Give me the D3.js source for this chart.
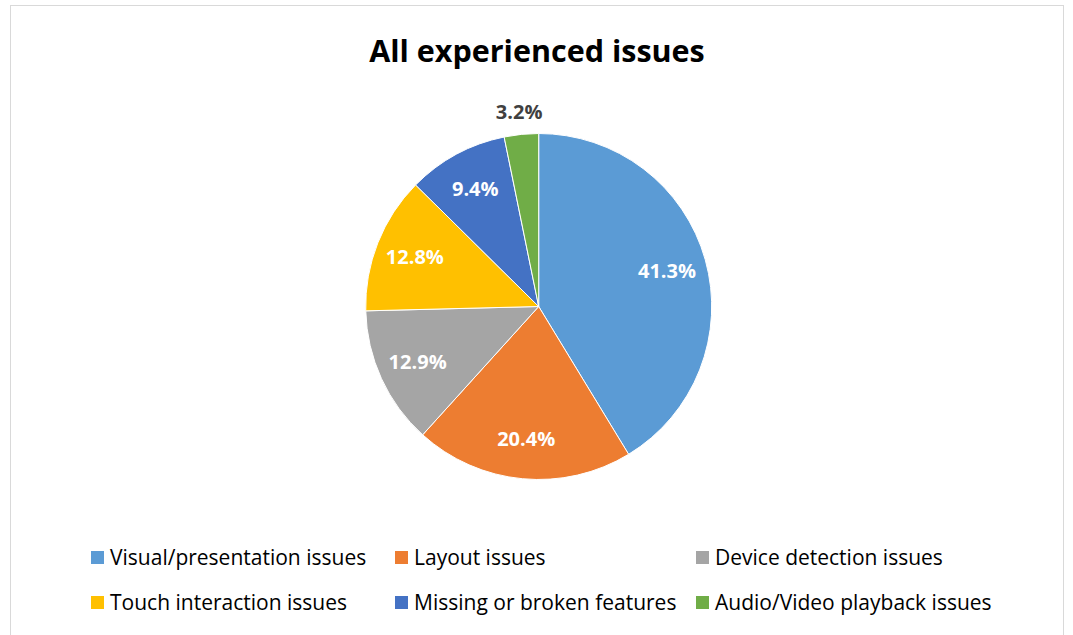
<!DOCTYPE html>
<html>
<head>
<meta charset="utf-8">
<script src="https://cdn.jsdelivr.net/npm/d3@7"></script>
<style>
  body { margin: 0; background: #fff; }
  svg { display: block; font-family: "Open Sans", "Noto Sans", sans-serif; }
</style>
</head>
<body>
<svg id="chart" width="1073" height="635"></svg>
<script>
// ===== DATA =====
const categories = [
    'Visual/presentation issues',
    'Layout issues',
    'Device detection issues',
    'Touch interaction issues',
    'Missing or broken features',
    'Audio/Video playback issues'
];
const shares = [41.3, 20.4, 12.9, 12.8, 9.4, 3.2];
const colors = ['#5B9BD5', '#ED7D31', '#A5A5A5', '#FFC000', '#4472C4', '#70AD47'];

const width = 1073, height = 635;
const cx = 538.7, cy = 306.5, radius = 173;

const svg = d3.select('#chart');

// chart frame
svg.append('rect')
    .attr('x', 10.5).attr('y', 5.5)
    .attr('width', 1053).attr('height', 640)
    .attr('fill', '#fff')
    .attr('stroke', '#d9d9d9')
    .attr('stroke-width', 1);

// title
svg.append('text')
    .attr('x', 537).attr('y', 62)
    .attr('text-anchor', 'middle')
    .style('font-size', '30.5px')
    .style('font-weight', 'bold')
    .style('fill', '#000')
    .text('All experienced issues');

// ===== PIE =====
const data = categories.map((c, i) => ({ name: c, value: shares[i], color: colors[i] }));
const pie = d3.pie().sort(null).value(d => d.value);
const arcs = pie(data);

const arc = d3.arc().innerRadius(0).outerRadius(radius);
const labelArc = d3.arc().innerRadius(radius * 0.77).outerRadius(radius * 0.77);
const outerArc = d3.arc().innerRadius(radius + 22).outerRadius(radius + 22);

const g = svg.append('g').attr('transform', `translate(${cx}, ${cy})`);

g.selectAll('path.slice')
    .data(arcs)
    .enter().append('path')
    .attr('class', 'slice')
    .attr('d', arc)
    .attr('fill', d => d.data.color)
    .attr('stroke', '#fff')
    .attr('stroke-width', 1);

g.selectAll('text.lbl')
    .data(arcs)
    .enter().append('text')
    .attr('class', 'lbl')
    .attr('transform', d => {
        const p = d.data.value < 5 ? outerArc.centroid(d) : labelArc.centroid(d);
        return `translate(${p[0]}, ${p[1]})`;
    })
    .attr('text-anchor', 'middle')
    .attr('dy', '0.35em')
    .style('font-size', '20px')
    .style('font-weight', 'bold')
    .style('fill', d => d.data.value < 5 ? '#404040' : '#fff')
    .text(d => d.data.value.toFixed(1) + '%');

// ===== LEGEND =====
const colX = [91, 395, 696];
const rowY = [558, 603];
const legend = svg.append('g');
data.forEach((d, i) => {
    const x = colX[i % 3], y = rowY[Math.floor(i / 3)];
    const item = legend.append('g').attr('transform', `translate(${x}, ${y})`);
    item.append('rect')
        .attr('x', 0).attr('y', -7)
        .attr('width', 13).attr('height', 13)
        .attr('fill', d.color);
    item.append('text')
        .attr('x', 19).attr('y', 0)
        .attr('dy', '0.35em')
        .style('font-size', '21px')
        .style('fill', '#000')
        .text(d.name);
});
</script>
</body>
</html>
